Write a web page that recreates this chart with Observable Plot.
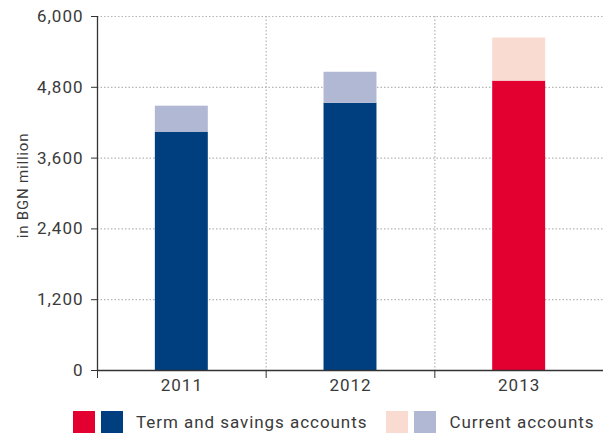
<!DOCTYPE html>
<html>
<head>
<meta charset="utf-8">
<script src="https://cdn.jsdelivr.net/npm/d3@7"></script>
<script src="https://cdn.jsdelivr.net/npm/@observablehq/plot@0.6"></script>
<style>
  html, body { margin: 0; padding: 0; background: #fff; }
  body { width: 603px; height: 433px; overflow: hidden; position: relative; font-family: Roboto, "Liberation Sans", sans-serif; }
  #chart svg { display: block; }
  #chart svg text { letter-spacing: 1px; }
  #chart svg g[aria-label="y-axis tick label"], #chart svg g[aria-label="x-axis tick label"] { font-size: 17px; }
  #chart svg g[aria-label="y-axis label"] { font-size: 15px; }
  .legend { position: absolute; top: 411px; left: 73px; display: flex; align-items: center; font-size: 17px; letter-spacing: 0.95px; color: #3a3a3a; white-space: nowrap; }
  .sw { width: 22px; height: 22px; display: inline-block; margin-right: 6px; }
  .lab { margin-left: 7px; margin-right: 19px; }
</style>
</head>
<body>
<div id="chart"></div>
<div class="legend">
  <span class="sw" style="background:#e30031"></span><span class="sw" style="background:#003f7f"></span><span class="lab">Term and savings accounts</span>
  <span class="sw" style="background:#fadbd2"></span><span class="sw" style="background:#b0b8d4"></span><span class="lab">Current accounts</span>
</div>
<script>
const years = [2011, 2012, 2013];
const termSavings = [4040, 4530, 4905];
const currentAccounts = [440, 525, 730];
const yTicks = [0, 1200, 2400, 3600, 4800, 6000];
const termColors = ["#003f7f", "#003f7f", "#e30031"];
const currentColors = ["#b0b8d4", "#b0b8d4", "#fadbd2"];

const half = 0.157;
const rows = [];
years.forEach((yr, i) => {
  rows.push({x1: yr - half, x2: yr + half, y1: 0, y2: termSavings[i], fill: termColors[i]});
  rows.push({x1: yr - half, x2: yr + half, y1: termSavings[i], y2: termSavings[i] + currentAccounts[i], fill: currentColors[i]});
});
const bounds = years.map(y => y - 0.5);
const innerBounds = bounds.slice(1);

const chart = Plot.plot({
  width: 603,
  height: 405,
  marginLeft: 97,
  marginRight: 0,
  marginTop: 16,
  marginBottom: 35,
  style: {fontFamily: "Roboto, 'Liberation Sans', sans-serif", color: "#3a3a3a", background: "#fff"},
  x: {domain: [years[0] - 0.5, years[years.length - 1] + 0.5]},
  y: {domain: [0, 6000]},
  marks: [
    Plot.gridY(yTicks.slice(1), {stroke: "#b5b5b5", strokeOpacity: 1, strokeWidth: 1.2, strokeDasharray: "1.5,2"}),
    Plot.gridX(innerBounds, {stroke: "#b5b5b5", strokeOpacity: 1, strokeWidth: 1.2, strokeDasharray: "1.5,2"}),
    Plot.rect(rows, {x1: "x1", x2: "x2", y1: "y1", y2: "y2", fill: d => d.fill}),
    Plot.axisY(yTicks, {tickFormat: d3.format(","), tickSize: 6, tickPadding: 8, fontSize: 17, stroke: "#333", fill: "#3a3a3a",
      label: "in BGN million", labelAnchor: "center", labelArrow: "none", labelOffset: 80}),
    Plot.axisX(bounds, {tickFormat: () => "", tickSize: 8, stroke: "#333", label: null}),
    Plot.axisX(years, {tickFormat: d => String(d), tickSize: 0, tickPadding: 8, fontSize: 17, fill: "#3a3a3a", label: null}),
    Plot.ruleX([years[0] - 0.5], {stroke: "#333", strokeWidth: 1.3}),
    Plot.ruleY([0], {stroke: "#333", strokeWidth: 1.3})
  ]
});
const lab = chart.querySelector("[aria-label='y-axis label']");
if (lab) {
  lab.querySelectorAll("text").forEach(t => {
    t.setAttribute("transform", "translate(0,-8) " + (t.getAttribute("transform") || ""));
    t.style.letterSpacing = "0.8px";
  });
}
document.getElementById("chart").appendChild(chart);
</script>
</body>
</html>
